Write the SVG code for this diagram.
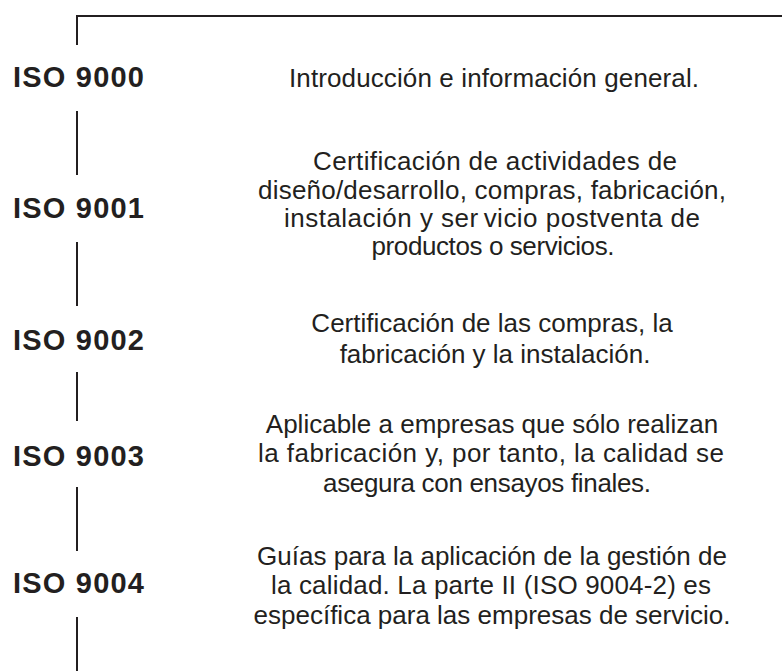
<svg xmlns="http://www.w3.org/2000/svg" width="782" height="671" viewBox="0 0 782 671">
<style>
.lbl{font-family:"Liberation Sans",Arial,sans-serif;font-weight:bold;font-size:29px;fill:#231f20}
.desc{font-family:"Liberation Sans",Arial,sans-serif;font-size:26px;fill:#231f20;text-anchor:middle}
.ln{stroke:#231f20;stroke-width:2;fill:none}
</style>
<rect width="782" height="671" fill="#ffffff"/>
<g id="connectors">
<path class="ln" d="M77 45 V16 H782"/>
<line class="ln" x1="77" y1="111" x2="77" y2="175"/>
<line class="ln" x1="77" y1="242" x2="77" y2="306"/>
<line class="ln" x1="77" y1="372" x2="77" y2="421"/>
<line class="ln" x1="77" y1="487" x2="77" y2="551"/>
<line class="ln" x1="77" y1="617" x2="77" y2="671"/>
</g>
<g id="iso9000">
<text class="lbl" x="13" y="87" textLength="131">ISO 9000</text>
<text class="desc" x="494" y="87" textLength="410">Introducción e información general.</text>
</g>
<g id="iso9001">
<text class="lbl" x="13" y="218" textLength="131">ISO 9001</text>
<text class="desc" x="495" y="170" textLength="364">Certificación de actividades de</text>
<text class="desc" x="492" y="198.5" textLength="468">diseño/desarrollo, compras, fabricación,</text>
<text class="desc" x="492" y="227" textLength="416">instalación y ser<tspan dx="5">vicio</tspan> postventa de</text>
<text class="desc" x="493" y="255" textLength="243">productos o servicios.</text>
</g>
<g id="iso9002">
<text class="lbl" x="13" y="350" textLength="131">ISO 9002</text>
<text class="desc" x="492" y="332">Certificación de las compras, la</text>
<text class="desc" x="495" y="363">fabricación y la instalación.</text>
</g>
<g id="iso9003">
<text class="lbl" x="13" y="466" textLength="131">ISO 9003</text>
<text class="desc" x="492" y="433">Aplicable a empresas que sólo realizan</text>
<text class="desc" x="491" y="462" textLength="466">la fabricación y, por tanto, la calidad se</text>
<text class="desc" x="487" y="492" textLength="328">asegura con ensayos finales.</text>
</g>
<g id="iso9004">
<text class="lbl" x="13" y="593" textLength="131">ISO 9004</text>
<text class="desc" x="492" y="565">Guías para la aplicación de la gestión de</text>
<text class="desc" x="491" y="594" textLength="440">la calidad. La parte II (ISO 9004-2) es</text>
<text class="desc" x="492" y="624">específica para las empresas de servicio.</text>
</g>
</svg>
